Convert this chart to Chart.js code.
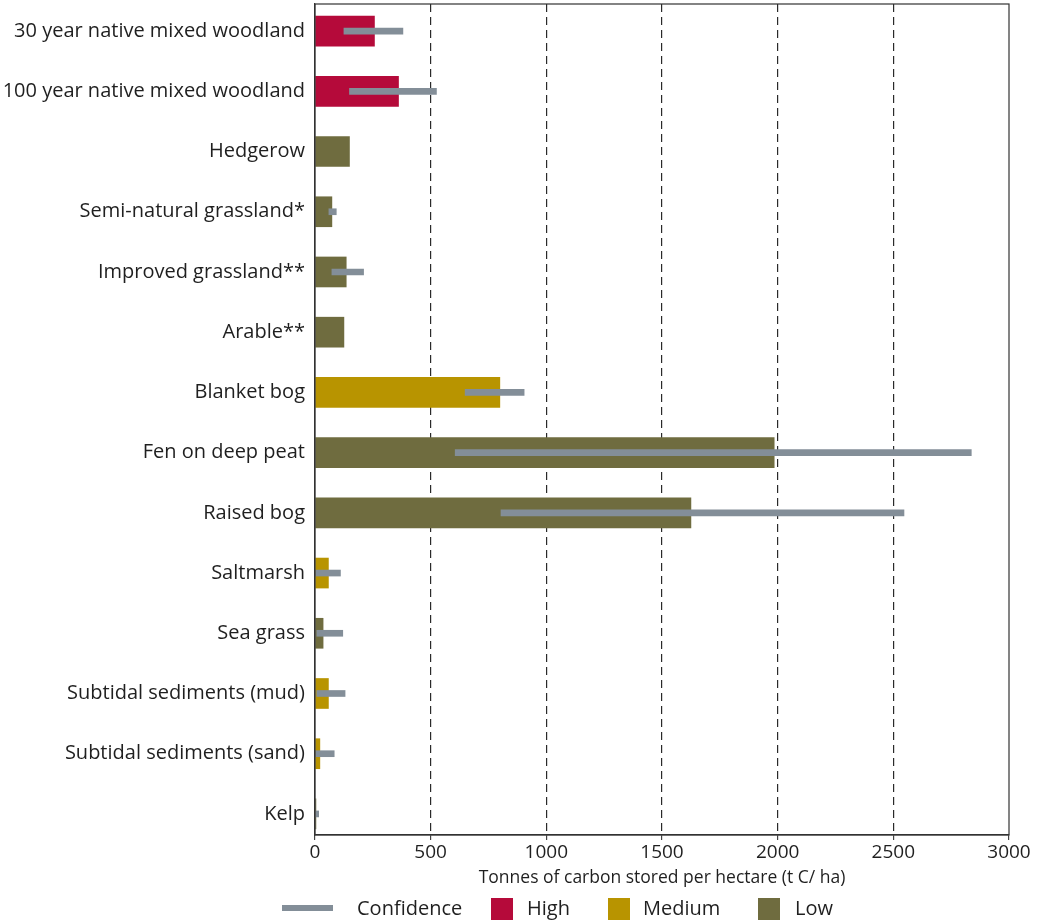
<!DOCTYPE html>
<html>
<head>
<meta charset="utf-8">
<script src="https://cdn.jsdelivr.net/npm/chart.js@4/dist/chart.umd.min.js"></script>
<style>
  html, body { margin: 0; padding: 0; background: #fff; }
  #wrap { width: 1037px; height: 921px; position: relative; }
</style>
</head>
<body>
<div id="wrap"><canvas id="carbonChart"></canvas></div>
<script>
const habitats = [
    '30 year native mixed woodland', '100 year native mixed woodland', 'Hedgerow',
    'Semi-natural grassland*', 'Improved grassland**', 'Arable**', 'Blanket bog',
    'Fen on deep peat', 'Raised bog', 'Saltmarsh', 'Sea grass',
    'Subtidal sediments (mud)', 'Subtidal sediments (sand)', 'Kelp'
];
const carbonStored = [257, 361, 149, 73, 135, 125, 799, 1985, 1625, 58, 35, 58, 21, 4];
const confidenceLevel = ['High', 'High', 'Low', 'Low', 'Low', 'Low', 'Medium', 'Low', 'Low', 'Medium', 'Low', 'Medium', 'Medium', 'Low'];
const rangeLow = [125, 149, null, 60, 73, null, 649, 606, 804, 0, 8, 8, 0, 0];
const rangeHigh = [380, 525, null, 92, 210, null, 904, 2837, 2546, 110, 120, 130, 83, 16];
const xTicks = [0, 500, 1000, 1500, 2000, 2500, 3000];

const levelColors = { High: '#b50a3a', Medium: '#b89400', Low: '#6f6c3f' };
const confColor = '#838e98';
const fontFamily = "'Open Sans', 'Noto Sans', sans-serif";
const textColor = '#1f1f1f';

const barPoints = carbonStored.map((v, i) => ({ y: i, x: v }));
const rangePoints = rangeLow
    .map((lo, i) => (lo === null ? null : { y: i, x: [lo, rangeHigh[i]] }))
    .filter(p => p !== null);

// frame round the plot + legend at the bottom
const framePlugin = {
    id: 'frame',
    afterDraw(chart) {
        const { ctx, chartArea: a } = chart;
        ctx.save();
        ctx.strokeStyle = '#333';
        ctx.lineWidth = 1.2;
        ctx.setLineDash([]);
        ctx.strokeRect(a.left, a.top, a.right - a.left, a.bottom - a.top);

        const y = 909;
        ctx.font = '20px ' + fontFamily;
        ctx.textBaseline = 'middle';
        ctx.fillStyle = confColor;
        ctx.fillRect(282, y - 4, 51, 6);
        ctx.fillStyle = textColor;
        ctx.fillText('Confidence', 357, y);
        const items = [['High', 491, 527], ['Medium', 608, 643], ['Low', 758, 795]];
        items.forEach(([name, bx, tx]) => {
            ctx.fillStyle = levelColors[name];
            ctx.fillRect(bx, y - 11, 22, 22);
            ctx.fillStyle = textColor;
            ctx.fillText(name, tx, y);
        });
        ctx.restore();
    }
};

const ctx = document.getElementById('carbonChart').getContext('2d');
const carbonChart = new Chart(ctx, {
    type: 'bar',
    data: {
        datasets: [
            {
                label: 'Confidence',
                data: rangePoints,
                backgroundColor: confColor,
                barThickness: 6,
                grouped: false,
                order: 0
            },
            {
                label: 'Carbon stored',
                data: barPoints,
                backgroundColor: confidenceLevel.map(l => levelColors[l]),
                barThickness: 30,
                grouped: false,
                order: 1
            }
        ]
    },
    options: {
        indexAxis: 'y',
        responsive: true,
        maintainAspectRatio: false,
        animation: false,
        layout: { padding: { top: 4, right: 28, bottom: 32, left: 0 } },
        plugins: {
            legend: { display: false },
            tooltip: { enabled: false }
        },
        scales: {
            x: {
                type: 'linear',
                min: 0,
                max: 3000,
                afterBuildTicks: scale => { scale.ticks = xTicks.map(v => ({ value: v })); },
                afterFit: scale => { scale.height = 54; scale.paddingLeft = 0; scale.paddingRight = 0; },
                grid: {
                    color: c => (c.tick && (c.tick.value === 0 || c.tick.value === 3000)) ? 'rgba(0,0,0,0)' : '#2a2a2a',
                    lineWidth: 1.2,
                    tickColor: '#444',
                    tickLength: 5,
                    tickBorderDash: [1, 0]
                },
                border: { color: '#333', width: 1.2, dash: [8, 5] },
                ticks: {
                    color: textColor,
                    padding: 1,
                    callback: v => String(v),
                    font: { family: fontFamily, size: 19 }
                },
                title: {
                    display: true,
                    text: 'Tonnes of carbon stored per hectare (t C/ ha)',
                    color: textColor,
                    padding: { top: 0, bottom: 0 },
                    font: { family: fontFamily, size: 17.5 }
                }
            },
            y: {
                type: 'linear',
                reverse: true,
                offset: false,
                min: -0.45,
                max: 13.35,
                afterBuildTicks: scale => { scale.ticks = habitats.map((_, i) => ({ value: i })); },
                afterFit: scale => { scale.width = 315; scale.paddingTop = 0; scale.paddingBottom = 0; },
                grid: { display: false, drawTicks: false, offset: false },
                border: { color: '#333', width: 1.2 },
                ticks: {
                    color: textColor,
                    padding: 10,
                    autoSkip: false,
                    callback: v => habitats[v],
                    font: { family: fontFamily, size: 20 }
                }
            }
        }
    },
    plugins: [framePlugin]
});
</script>
</body>
</html>
